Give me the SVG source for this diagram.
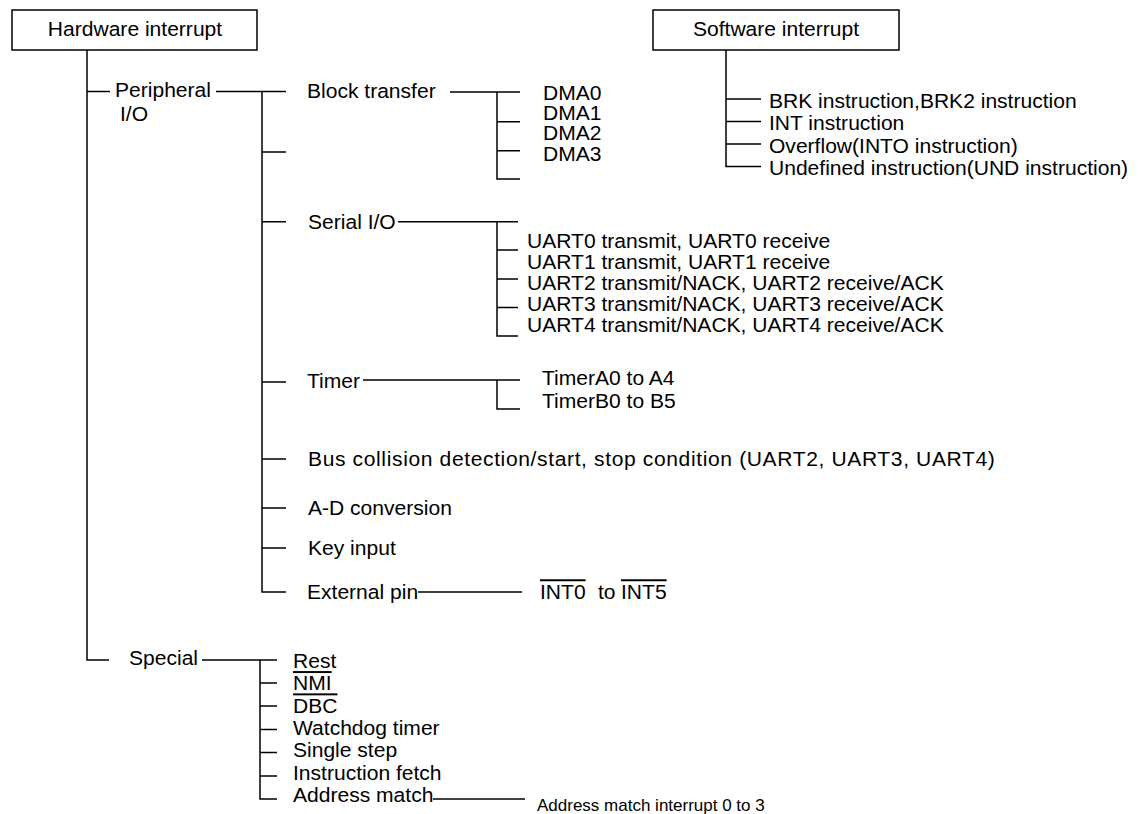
<svg xmlns="http://www.w3.org/2000/svg" width="1138" height="814" viewBox="0 0 1138 814">
<style>
text{font-family:"Liberation Sans",Arial,sans-serif;font-size:19.5px;fill:#000}
.c{fill:none;stroke:#000;stroke-width:1.5}
.box{fill:#fff;stroke:#000;stroke-width:1.5}
.ov{text-decoration:overline}
.sm{font-size:17px}
</style>
<rect width="1138" height="814" fill="#fff"/>
<g id="connectors" class="c">
<path d="M87,50 V660 H109"/>
<path d="M87,91.5 H110"/>
<path d="M216,91.5 H286 M262,91.5 V592 H286"/>
<path d="M262,152 H286 M262,221.7 H286 M262,382 H286 M262,459 H286 M262,508 H286 M262,548 H286"/>
<path d="M450,92 H520 M497,92 V179 H520 M497,121.7 H520 M497,150.7 H520"/>
<path d="M398,221.7 H518 M497,221.7 V336 H518 M497,250 H518 M497,279 H518 M497,307.5 H518"/>
<path d="M363,380 H520 M497,380 V409 H520"/>
<path d="M418,592 H522"/>
<path d="M202,660 H277 M260,660 V799 H277 M260,683 H277 M260,706 H277 M260,729.5 H277 M260,752.5 H277 M260,776 H277"/>
<path d="M433,799 H525"/>
<path d="M726,50 V166.5 H761 M726,99 H761 M726,121.5 H761 M726,144 H761"/>
</g>
<g id="hardware">
<rect class="box" x="12" y="10" width="245" height="40"/>
<text text-anchor="middle" transform="translate(135,36) scale(1.08,1)">Hardware interrupt</text>
</g>
<g id="software">
<rect class="box" x="653" y="10" width="246" height="40"/>
<text text-anchor="middle" transform="translate(776,36) scale(1.08,1)">Software interrupt</text>
</g>
<g id="sw-items">
<text transform="translate(769,108) scale(1.08,1)">BRK instruction,BRK2 instruction</text>
<text transform="translate(769,130) scale(1.08,1)">INT instruction</text>
<text transform="translate(769,152.5) scale(1.08,1)">Overflow(INTO instruction)</text>
<text transform="translate(769,175) scale(1.08,1)">Undefined instruction(UND instruction)</text>
</g>
<g id="peripheral">
<text transform="translate(115,97) scale(1.08,1)">Peripheral</text>
<text transform="translate(120,121) scale(1.08,1)">I/O</text>
</g>
<g id="block-transfer">
<text transform="translate(307,98) scale(1.08,1)">Block transfer</text>
</g>
<g id="dma">
<text transform="translate(543,99.5) scale(1.08,1)">DMA0</text>
<text transform="translate(543,119.5) scale(1.08,1)">DMA1</text>
<text transform="translate(543,140) scale(1.08,1)">DMA2</text>
<text transform="translate(543,161) scale(1.08,1)">DMA3</text>
</g>
<g id="serial">
<text transform="translate(308,228.5) scale(1.08,1)">Serial I/O</text>
</g>
<g id="uart">
<text transform="translate(527,248) scale(1.08,1)">UART0 transmit, UART0 receive</text>
<text transform="translate(527,269) scale(1.08,1)">UART1 transmit, UART1 receive</text>
<text transform="translate(527,290) scale(1.08,1)">UART2 transmit/NACK, UART2 receive/ACK</text>
<text transform="translate(527,311) scale(1.08,1)">UART3 transmit/NACK, UART3 receive/ACK</text>
<text transform="translate(527,332) scale(1.08,1)">UART4 transmit/NACK, UART4 receive/ACK</text>
</g>
<g id="timer">
<text transform="translate(307,388) scale(1.08,1)">Timer</text>
<text transform="translate(542,385) scale(1.08,1)">TimerA0 to A4</text>
<text transform="translate(542,408) scale(1.08,1)">TimerB0 to B5</text>
</g>
<g id="bus-collision">
<text transform="translate(308,466) scale(1.08,1)" textLength="636">Bus collision detection/start, stop condition (UART2, UART3, UART4)</text>
</g>
<g id="ad">
<text transform="translate(308,514.5) scale(1.08,1)">A-D conversion</text>
</g>
<g id="key">
<text transform="translate(308,555) scale(1.08,1)">Key input</text>
</g>
<g id="external">
<text transform="translate(307,598.5) scale(1.08,1)">External pin</text>
<text transform="translate(540,598.5) scale(1.08,1)"><tspan class="ov">INT0</tspan></text>
<text transform="translate(598,598.5) scale(1.08,1)">to</text>
<text transform="translate(621,598.5) scale(1.08,1)"><tspan class="ov">INT5</tspan></text>
</g>
<g id="special">
<text transform="translate(129,665) scale(1.08,1)">Special</text>
<text transform="translate(293,668) scale(1.08,1)">Rest</text>
<text transform="translate(293,690.3) scale(1.08,1)"><tspan class="ov">NMI</tspan></text>
<text transform="translate(293,712.6) scale(1.08,1)"><tspan class="ov">DBC</tspan></text>
<text transform="translate(293,735) scale(1.08,1)">Watchdog timer</text>
<text transform="translate(293,757.2) scale(1.08,1)">Single step</text>
<text transform="translate(293,779.5) scale(1.08,1)">Instruction fetch</text>
<text transform="translate(293,801.8) scale(1.08,1)">Address match</text>
<text class="sm" transform="translate(537,811) scale(1.0,1)">Address match interrupt 0 to 3</text>
</g>
</svg>
